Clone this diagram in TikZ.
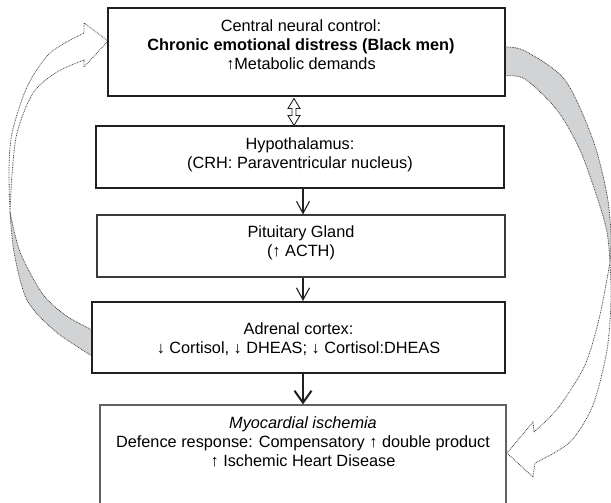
\documentclass[tikz,border=0pt]{standalone}
\usepackage{fontspec}
\setmainfont{Liberation Sans}
\usetikzlibrary{arrows.meta,calc}
\definecolor{boxline}{HTML}{231F20}
\definecolor{thinline}{HTML}{3A3A3A}
\definecolor{ribbon}{HTML}{D1D3D4}
\definecolor{dotline}{HTML}{404040}
\begin{document}
\begin{tikzpicture}[x=1pt,y=-1pt,
  thickbox/.style={draw=boxline, line width=2pt, fill=white, inner sep=0pt},
  thinbox/.style={draw=thinline, line width=1.1pt, fill=white, inner sep=0pt},
  txt/.style={anchor=base, inner sep=0pt, font=\fontsize{16.3}{19}\selectfont},
  ribbonback/.style={fill=ribbon, draw=dotline, line width=0.8pt, dash pattern=on 0.8pt off 0.9pt},
  ribbonfront/.style={fill=white, draw=dotline, line width=0.8pt, dash pattern=on 0.8pt off 0.9pt},
  flowarrow/.style={draw=boxline, line width=1.1pt, -{Straight Barb[length=12pt,width=13pt]}},
  bigflow/.style={draw=boxline, line width=2pt, -{Straight Barb[length=12pt,width=17pt]}},
  dblarrow/.style={draw=boxline, line width=0.9pt, fill=white, line join=miter}]
\useasboundingbox (0,0) rectangle (611,503);
\clip (0,0) rectangle (611,503);

% ---- curved block arrows (drawn first, boxes cover their ends)
% left: from adrenal cortex back to central control
\path[ribbonback] plot[smooth] coordinates {(10,212) (20,252) (42,293) (65,315) (92,330)}
   -- (92,356) -- plot[smooth] coordinates {(92,356) (55,331) (27,300) (14,252) (10,212)} -- cycle;
\path[ribbonfront] plot[smooth] coordinates {(10,212) (9,170) (12,133) (27,87) (50,53) (84,33)}
   -- (84,23) -- (108,41) -- (84,67)
   -- plot[smooth] coordinates {(84,60) (57,72) (33,93) (17,133) (12,175) (10,212)} -- cycle;
% right: from central control down to myocardial ischemia
\path[ribbonback] plot[smooth] coordinates {(505,47) (525,51) (565,80) (593,140) (607,195) (611,235) (610,262)}
   -- plot[smooth] coordinates {(610,262) (607,232) (598,200) (580,150) (557,110) (525,79) (505,76)} -- cycle;
\path[ribbonfront] plot[smooth] coordinates {(610,262) (611,300) (607,350) (593,405) (570,442) (535,463)}
   -- (533,477) -- (507,453) -- (533,422)
   -- plot[smooth] coordinates {(534,432) (558,408) (585,365) (600,315) (610,262)} -- cycle;

% ---- boxes
\node[thickbox, minimum width=397pt, minimum height=88pt] (c) at (306.5,52) {};
\node[thickbox, minimum width=408pt, minimum height=62pt] (h) at (300,157) {};
\node[thinbox,  minimum width=408pt, minimum height=62pt] (p) at (301,246) {};
\node[thickbox, minimum width=413pt, minimum height=71pt] (a) at (298.5,337.5) {};
\node[thinbox, draw=thinline!80, minimum width=406pt, minimum height=130pt] (m) at (303,470) {};

% ---- texts
\node[txt] (c1) at (301,32) {Central neural control:};
\node[txt] (c2) at (301,51) {\bfseries Chronic emotional distress (Black men)};
\node[txt] (c3) at (301,70) {↑Metabolic demands};
\node[txt] (h1) at (300,149) {Hypothalamus:};
\node[txt] (h2) at (300,168) {(CRH: Paraventricular nucleus)};
\node[txt] (p1) at (301,237) {Pituitary Gland};
\node[txt] (p2) at (301,256) {(↑ ACTH)};
\node[txt] (a1) at (298.5,334) {Adrenal cortex:};
\node[txt] (a2) at (298.5,353) {↓ Cortisol, ↓ DHEAS; ↓ Cortisol:DHEAS};
\node[txt] (m1) at (303,428) {\itshape Myocardial ischemia};
\node[txt] (m2) at (303,447) {Defence response: Compensatory ↑ double product};
\node[txt] (m3) at (303,466) {↑ Ischemic Heart Disease};

% ---- straight connectors
\coordinate (ax) at (303,0);
\coordinate (dx) at (294,0);
\draw[flowarrow] (h.south -| ax) -- (p.north -| ax);
\draw[flowarrow] (p.south -| ax) -- (a.north -| ax);
\draw[bigflow] (a.south -| ax) -- (m.north -| ax);
\path (c.south -| dx) coordinate (d1);
\draw[dblarrow] ($(d1)+(0,1.5)$) -- ++(6,10) -- ++(-4,0) -- ++(0,7) -- ++(4,0) -- ++(-6,10)
   -- ++(-6,-10) -- ++(4,0) -- ++(0,-7) -- ++(-4,0) -- cycle;
\end{tikzpicture}
\end{document}
